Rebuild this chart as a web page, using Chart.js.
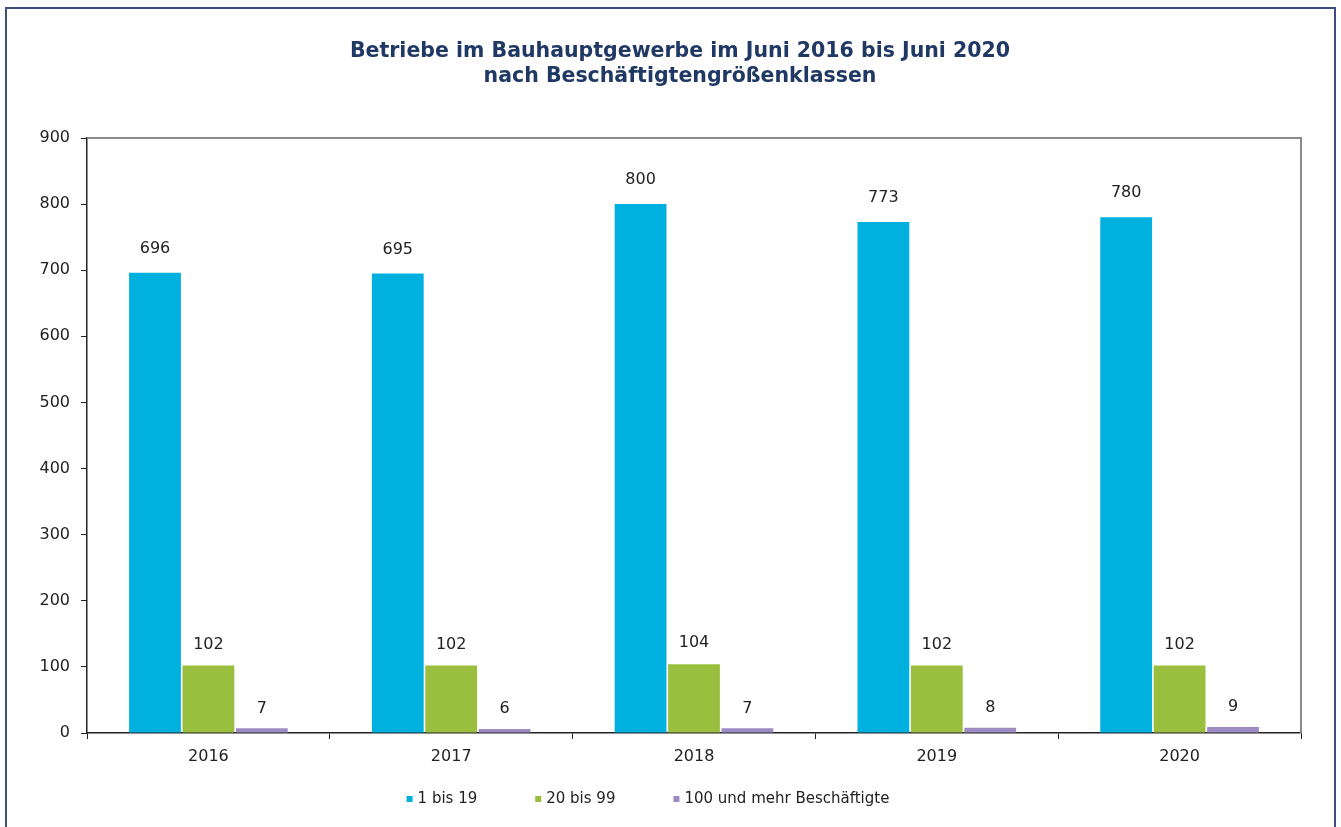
<!DOCTYPE html>
<html>
<head>
<meta charset="utf-8">
<script src="https://cdn.jsdelivr.net/npm/chart.js@4.4.1/dist/chart.umd.min.js"></script>
<style>
  body { margin: 0; background: #fff; }
  #wrap { position: absolute; left: 0; top: 0; width: 1341px; height: 827px; }
  #frame { position: absolute; left: 5px; top: 7px; width: 1327px; height: 840px;
           border: 2px solid #3d4f80; pointer-events: none; }
</style>
</head>
<body>
<div id="wrap"><canvas id="chart"></canvas></div>
<div id="frame"></div>
<script>
// Jahre und Werte je Beschäftigtengrößenklasse
const years = ["2016", "2017", "2018", "2019", "2020"];
const klein = [696, 695, 800, 773, 780];   // 1 bis 19
const mittel = [102, 102, 104, 102, 102];  // 20 bis 99
const gross = [7, 6, 7, 8, 9];             // 100 und mehr Beschäftigte
const yTicks = [0, 100, 200, 300, 400, 500, 600, 700, 800, 900];
const titleLines = ['Betriebe im Bauhauptgewerbe im Juni 2016 bis Juni 2020',
                    'nach Beschäftigtengrößenklassen'];

const FONT = "'DejaVu Sans', Verdana, sans-serif";

// Werte über die Balken schreiben
const valueLabels = {
    id: 'valueLabels',
    afterDatasetsDraw(chart) {
        const ctx = chart.ctx;
        ctx.save();
        ctx.font = "16px " + FONT;
        ctx.fillStyle = "#222";
        ctx.textAlign = "center";
        ctx.textBaseline = "bottom";
        chart.data.datasets.forEach((ds, i) => {
            chart.getDatasetMeta(i).data.forEach((bar, j) => {
                ctx.fillText(ds.data[j], bar.x, bar.y - ds.labelOffset);
            });
        });
        ctx.restore();
    }
};

// Titel, Rahmen oben/rechts und eigene Legende
const decorations = {
    id: 'decorations',
    beforeDatasetsDraw(chart) {
        const a = chart.chartArea;
        const ctx = chart.ctx;
        ctx.save();
        ctx.strokeStyle = "#8a8a8a";
        ctx.lineWidth = 2;
        ctx.beginPath();
        ctx.moveTo(a.left, a.top);
        ctx.lineTo(a.right, a.top);
        ctx.lineTo(a.right, a.bottom);
        ctx.stroke();
        ctx.restore();
    },
    afterDraw(chart) {
        const ctx = chart.ctx;
        ctx.save();
        // Titel
        ctx.font = "bold 20.5px " + FONT;
        ctx.fillStyle = "#1f3864";
        ctx.textAlign = "center";
        ctx.textBaseline = "middle";
        titleLines.forEach((t, i) => ctx.fillText(t, 680, 52 + i * 25));

        // Legende
        ctx.textAlign = "left";
        ctx.font = "15px " + FONT;
        const box = 6, gap = 5, spacing = 58;
        const items = chart.data.datasets.map(ds => ({ text: ds.label, color: ds.backgroundColor }));
        let total = 0;
        items.forEach((it, i) => {
            it.w = box + gap + ctx.measureText(it.text).width;
            total += it.w + (i ? spacing : 0);
        });
        let x = 648 - total / 2;
        const y = 799;
        items.forEach(it => {
            ctx.fillStyle = it.color;
            ctx.fillRect(x, y - box / 2, box, box);
            ctx.fillStyle = "#222";
            ctx.fillText(it.text, x + box + gap, y);
            x += it.w + spacing;
        });
        ctx.restore();
    }
};

new Chart(document.getElementById('chart'), {
    type: 'bar',
    data: {
        labels: years,
        datasets: [
            { label: '1 bis 19', data: klein, backgroundColor: '#00b0de', labelOffset: 16 },
            { label: '20 bis 99', data: mittel, backgroundColor: '#9abf3e', labelOffset: 13 },
            { label: '100 und mehr Beschäftigte', data: gross, backgroundColor: '#9e8bc4', labelOffset: 12 }
        ]
    },
    options: {
        responsive: true,
        maintainAspectRatio: false,
        animation: false,
        datasets: {
            bar: { categoryPercentage: 0.66, barPercentage: 0.97 }
        },
        layout: { padding: { left: 0, right: 40, top: 138, bottom: 54 } },
        plugins: {
            legend: { display: false },
            tooltip: { enabled: false },
            title: { display: false }
        },
        scales: {
            x: {
                grid: { display: true, drawOnChartArea: false, tickLength: 6, color: '#222', offset: true },
                border: { color: '#222', width: 1.5 },
                ticks: { color: '#222', font: { family: FONT, size: 16 }, padding: 8 },
                afterFit(scale) { scale.height = 40; }
            },
            y: {
                min: 0,
                max: 900,
                afterBuildTicks(scale) { scale.ticks = yTicks.map(v => ({ value: v })); },
                grid: { display: true, drawOnChartArea: false, tickLength: 6, color: '#222' },
                border: { color: '#222', width: 1.5 },
                ticks: { color: '#222', font: { family: FONT, size: 16 }, padding: 11 },
                afterFit(scale) { scale.width = 87; }
            }
        }
    },
    plugins: [valueLabels, decorations]
});
</script>
</body>
</html>
